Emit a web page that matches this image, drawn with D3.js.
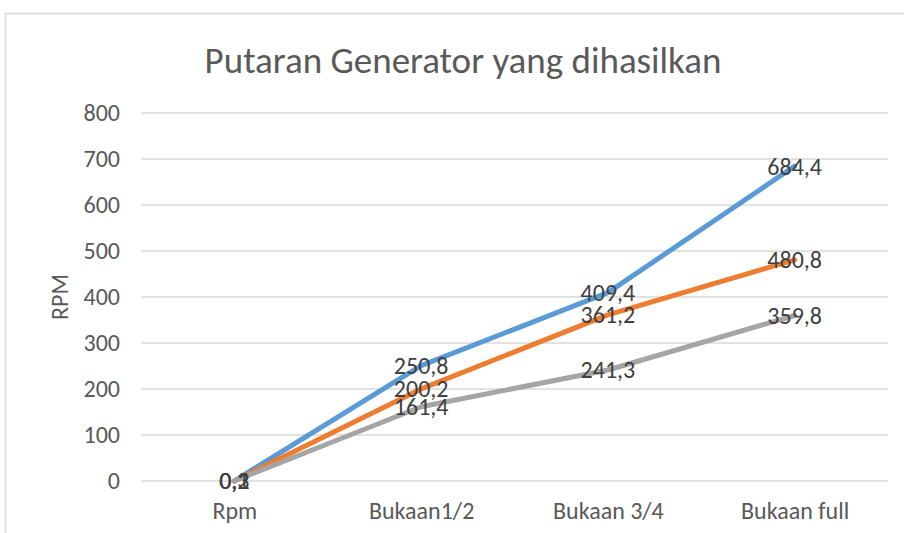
<!DOCTYPE html>
<html>
<head>
<meta charset="utf-8">
<script src="https://cdn.jsdelivr.net/npm/d3@7"></script>
<style>
  html, body { margin: 0; padding: 0; background: #fff; }
  svg { display: block; font-family: Calibri, Carlito, Lato, sans-serif; }
</style>
</head>
<body>
<svg id="chart" width="904" height="533"></svg>
<script>
const categories = ["Rpm", "Bukaan1/2", "Bukaan 3/4", "Bukaan full"];
const seriesNames = ["Seri 1", "Seri 2", "Seri 3"];
const blueValues = [0.3, 250.8, 409.4, 684.4];
const orangeValues = [0.2, 200.2, 361.2, 480.8];
const grayValues = [0.1, 161.4, 241.3, 359.8];
const yTicks = [0, 100, 200, 300, 400, 500, 600, 700, 800];
const titleText = "Putaran Generator yang dihasilkan";
const yAxisTitle = "RPM";

const series = [
  { name: seriesNames[0], values: blueValues, color: "#5B9BD5" },
  { name: seriesNames[1], values: orangeValues, color: "#ED7D31" },
  { name: seriesNames[2], values: grayValues, color: "#A5A5A5" }
];

const svg = d3.select("#chart");
const plot = { left: 141, right: 888, top: 113, bottom: 481 };
const FS = 24;

svg.append("rect")
  .attr("x", 5.5).attr("y", 13.5)
  .attr("width", 960).attr("height", 560)
  .attr("fill", "none").attr("stroke", "#D9D9D9").attr("stroke-width", 1.5);

const x = d3.scalePoint().domain(categories).range([plot.left, plot.right]).padding(0.5);
const y = d3.scaleLinear().domain([0, 800]).range([plot.bottom, plot.top]);

svg.append("g").selectAll("line").data(yTicks).join("line")
  .attr("x1", plot.left).attr("x2", plot.right)
  .attr("y1", d => y(d)).attr("y2", d => y(d))
  .attr("stroke", "#D9D9D9").attr("stroke-width", 1.5);

const yAxis = d3.axisLeft(y).tickValues(yTicks).tickSize(0).tickPadding(0).tickFormat(d3.format("d"));
const yg = svg.append("g").attr("transform", `translate(120,0)`).call(yAxis);
yg.select(".domain").remove();
yg.selectAll("text").attr("font-size", FS).attr("fill", "#595959")
  .attr("font-family", "Calibri, Carlito, Lato, sans-serif");

const xAxis = d3.axisBottom(x).tickSize(0).tickPadding(0);
const xg = svg.append("g").attr("transform", `translate(0,502)`).call(xAxis);
xg.select(".domain").remove();
xg.selectAll("text").attr("font-size", FS).attr("fill", "#595959")
  .attr("font-family", "Calibri, Carlito, Lato, sans-serif");

const line = d3.line().x((d, i) => x(categories[i])).y(d => y(d));
series.forEach(s => {
  svg.append("path").datum(s.values)
    .attr("d", line)
    .attr("fill", "none")
    .attr("stroke", s.color)
    .attr("stroke-width", 5)
    .attr("stroke-linejoin", "round")
    .attr("stroke-linecap", "round");
});

const fmt = v => String(v).replace(".", ",");
series.forEach(s => {
  svg.append("g").selectAll("text").data(s.values).join("text")
    .attr("x", (d, i) => x(categories[i]))
    .attr("y", d => y(d))
    .attr("dy", "0.35em")
    .attr("text-anchor", "middle")
    .attr("font-size", FS)
    .attr("fill", "#404040")
    .text(d => fmt(d));
});

svg.append("text")
  .attr("transform", `translate(68,${(plot.top + plot.bottom) / 2}) rotate(-90)`)
  .attr("text-anchor", "middle")
  .attr("font-size", FS)
  .attr("fill", "#595959")
  .text(yAxisTitle);

const title = svg.append("text")
  .attr("x", 463).attr("y", 73)
  .attr("text-anchor", "middle")
  .attr("font-size", 32)
  .attr("fill", "#595959")
  .text(titleText);
const tw = title.node().getComputedTextLength();
if (tw > 0) title.attr("font-size", 32 * 517 / tw);
</script>
</body>
</html>
